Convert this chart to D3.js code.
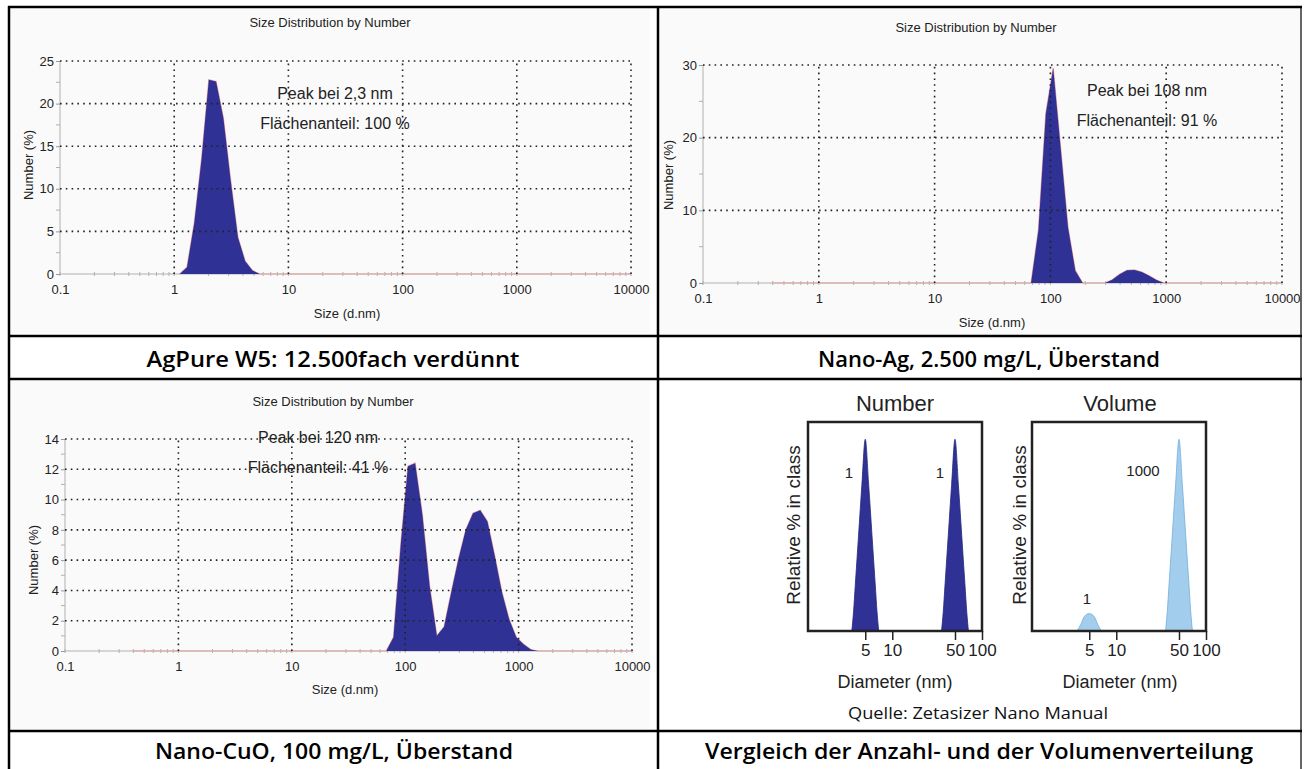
<!DOCTYPE html>
<html>
<head>
<meta charset="utf-8">
<script src="https://cdn.jsdelivr.net/npm/d3@7"></script>
<style>
  body { margin: 0; background: #fff; }
  text { font-family: "Liberation Sans", Arial, sans-serif; }
</style>
</head>
<body>
<script>
// size classes (d.nm) and number %
var agPureSizes  = [1.117, 1.294, 1.499, 1.736, 2.01, 2.328, 2.696, 3.122, 3.615, 4.187, 4.849, 5.615, 10000];
var agPureValues = [0, 0.8, 6, 13.5, 22.8, 22.6, 18.3, 11, 4.3, 1.5, 0.4, 0, 0];

var nanoAgSizes  = [0.4, 68.06, 78.82, 91.28, 105.7, 122.4, 141.8, 164.2, 190.1, 295.3, 342, 396.1, 458.7, 531.2, 615.1, 712.4, 825, 955.4, 10000];
var nanoAgValues = [0, 0, 7.3, 23.3, 29.6, 18.7, 7.7, 1.7, 0, 0, 0.45, 1.2, 1.75, 1.8, 1.5, 1.0, 0.4, 0, 0];

var nanoCuoSizes  = [0.4, 68.06, 78.82, 91.28, 105.7, 122.4, 141.8, 164.2, 190.1, 220.2, 255, 295.3, 342, 396.1, 458.7, 531.2, 615.1, 712.4, 825, 955.4, 1106, 1281, 1484, 10000];
var nanoCuoValues = [0, 0, 0.9, 7.0, 12.2, 12.4, 9.0, 4.3, 1.0, 1.6, 3.9, 6.1, 8.0, 9.1, 9.3, 8.55, 6.3, 3.9, 2.1, 0.9, 0.45, 0.1, 0, 0];

// tick labels
var sizeTicks = [0.1, 1, 10, 100, 1000, 10000];
var agPureYTicks = [0, 5, 10, 15, 20, 25];
var nanoAgYTicks = [0, 10, 20, 30];
var nanoCuoYTicks = [0, 2, 4, 6, 8, 10, 12, 14];

// schematic from the Zetasizer manual (relative % in class)
var peak5Sizes   = [3.54, 3.70, 3.87, 4.21, 4.58, 5, 5.46, 5.94, 6.46, 6.76, 7.06];
var peak5Values  = [0, 10, 24, 50, 76, 100, 76, 50, 24, 10, 0];
var peak50Sizes  = [35.4, 37.0, 38.7, 42.1, 45.8, 50, 54.6, 59.4, 64.6, 67.6, 70.6];
var peak50Values = [0, 10, 24, 50, 76, 100, 76, 50, 24, 10, 0];
var volume5Sizes  = [3.66, 4.03, 4.40, 5, 5.68, 6.21, 6.82];
var volume5Values = [0, 3.5, 7.5, 9.1, 7.5, 3.5, 0];
var diameterTicks = [5, 10, 50, 100];

var navy = "#2f3195";

var svg = d3.select("body").append("svg")
    .attr("width", 1309)
    .attr("height", 769);

function zip(a, b) {
  return a.map(function(d, i) { return [d, b[i]]; });
}

// one "Size Distribution by Number" plot
function drawDls(p) {
  var x = d3.scaleLog().domain([0.1, 10000]).range([p.left, p.right]);
  var y = d3.scaleLinear().domain([0, p.yTicks[p.yTicks.length - 1]]).range([p.bottom, p.top]);
  var g = svg.append("g");
  var data = zip(p.sizes, p.values);

  g.append("rect")
      .attr("x", p.bg[0]).attr("y", p.bg[1])
      .attr("width", p.bg[2]).attr("height", p.bg[3])
      .attr("fill", "#fafafa");

  g.append("text")
      .attr("x", p.titleX).attr("y", p.titleY)
      .attr("text-anchor", "middle")
      .attr("dominant-baseline", "central")
      .style("font-size", "13px")
      .style("fill", "#222")
      .text("Size Distribution by Number");

  // axis lines
  g.append("line")
      .attr("x1", p.left).attr("x2", p.right)
      .attr("y1", y(0)).attr("y2", y(0))
      .attr("stroke", "#c8c8c8").attr("stroke-width", 1.5);
  g.append("line")
      .attr("x1", p.left).attr("x2", p.left)
      .attr("y1", y(0)).attr("y2", p.top)
      .attr("stroke", "#c8c8c8").attr("stroke-width", 1.5);

  // minor ticks
  g.selectAll(".xminor")
      .data(x.ticks())
      .enter().append("line")
      .attr("x1", function(d) { return x(d); }).attr("x2", function(d) { return x(d); })
      .attr("y1", y(0) - 2).attr("y2", y(0) + 2)
      .attr("stroke", "#b0b0b0");
  var half = (p.yTicks[1] - p.yTicks[0]) / 2;
  g.selectAll(".yminor")
      .data(p.yTicks.slice(1).map(function(d) { return d - half; }))
      .enter().append("line")
      .attr("x1", p.left - 4).attr("x2", p.left)
      .attr("y1", function(d) { return y(d); }).attr("y2", function(d) { return y(d); })
      .attr("stroke", "#b0b0b0");

  // data trace (only its baseline part stays visible)
  g.append("path")
      .datum(data)
      .attr("fill", "none")
      .attr("stroke", "#eaa4a4")
      .attr("stroke-width", 1.2)
      .attr("d", d3.line().x(function(d) { return x(d[0]); }).y(function(d) { return y(d[1]); }));

  // filled distribution
  g.append("path")
      .datum(data)
      .attr("fill", navy)
      .attr("d", d3.area().x(function(d) { return x(d[0]); }).y0(y(0)).y1(function(d) { return y(d[1]); }));

  // dotted grid
  g.selectAll(".hgrid")
      .data(p.yTicks.slice(1))
      .enter().append("line")
      .attr("x1", p.left).attr("x2", p.right)
      .attr("y1", function(d) { return y(d); }).attr("y2", function(d) { return y(d); })
      .attr("stroke", "#222").attr("stroke-width", 1.6)
      .attr("stroke-dasharray", "1.6,4.2");
  g.selectAll(".vgrid")
      .data(sizeTicks.slice(1))
      .enter().append("line")
      .attr("x1", function(d) { return x(d); }).attr("x2", function(d) { return x(d); })
      .attr("y1", y(0)).attr("y2", p.top)
      .attr("stroke", "#222").attr("stroke-width", 1.6)
      .attr("stroke-dasharray", "1.6,4.2");

  // tick labels
  var yAxis = g.append("g")
      .attr("transform", "translate(" + p.left + ",0)")
      .call(d3.axisLeft(y).tickValues(p.yTicks).tickSize(4).tickPadding(2));
  yAxis.select(".domain").remove();
  yAxis.selectAll("line").attr("stroke", "#999");
  yAxis.selectAll("text").style("font-size", "13px").style("fill", "#222")
      .style("font-family", "'Liberation Sans', Arial, sans-serif");

  var xAxis = g.append("g")
      .attr("transform", "translate(0," + y(0) + ")")
      .call(d3.axisBottom(x).tickValues(sizeTicks).tickFormat(d3.format("")).tickSize(0).tickPadding(11));
  xAxis.select(".domain").remove();
  xAxis.selectAll("text").style("font-size", "13px").style("fill", "#222")
      .style("font-family", "'Liberation Sans', Arial, sans-serif");

  g.append("text")
      .attr("x", p.xLabel[0]).attr("y", p.xLabel[1])
      .attr("text-anchor", "middle").attr("dominant-baseline", "central")
      .style("font-size", "13px").style("fill", "#222")
      .text("Size (d.nm)");
  g.append("text")
      .attr("transform", "translate(" + p.yLabel[0] + "," + p.yLabel[1] + ") rotate(-90)")
      .attr("text-anchor", "middle").attr("dominant-baseline", "central")
      .style("font-size", "13px").style("fill", "#222")
      .text("Number (%)");

  // peak annotation
  g.selectAll(".note")
      .data(p.notes)
      .enter().append("text")
      .attr("x", p.noteX)
      .attr("y", function(d, i) { return p.noteY[i]; })
      .attr("text-anchor", "middle").attr("dominant-baseline", "central")
      .style("font-size", "16px").style("fill", "#222")
      .text(function(d) { return d; });
}

drawDls({
  left: 60, right: 631, top: 61, bottom: 274,
  bg: [11, 9, 639, 324],
  yTicks: agPureYTicks, sizes: agPureSizes, values: agPureValues,
  titleX: 330, titleY: 22, xLabel: [347, 313], yLabel: [28, 165],
  notes: ["Peak bei 2,3 nm", "Flächenanteil: 100 %"], noteX: 335, noteY: [93, 123]
});

drawDls({
  left: 703, right: 1282, top: 65, bottom: 283,
  bg: [660, 9, 640, 326],
  yTicks: nanoAgYTicks, sizes: nanoAgSizes, values: nanoAgValues,
  titleX: 976, titleY: 27, xLabel: [992, 322], yLabel: [668, 175],
  notes: ["Peak bei 108 nm", "Flächenanteil: 91 %"], noteX: 1147, noteY: [90, 120]
});

drawDls({
  left: 65, right: 632, top: 439, bottom: 651,
  bg: [11, 381, 639, 348],
  yTicks: nanoCuoYTicks, sizes: nanoCuoSizes, values: nanoCuoValues,
  titleX: 333, titleY: 401, xLabel: [345, 689], yLabel: [33, 560],
  notes: ["Peak bei 120 nm", "Flächenanteil: 41 %"], noteX: 318, noteY: [437, 467]
});

// schematic number / volume comparison
function drawSchematic(p) {
  var x = d3.scaleLog().domain([1.15, 100]).range([p.left, p.left + 174]);
  var y = d3.scaleLinear().domain([0, 109]).range([631, 422]);
  var g = svg.append("g");

  g.selectAll(".peak")
      .data(p.peaks)
      .enter().append("path")
      .attr("fill", p.fill)
      .attr("stroke", p.stroke)
      .attr("stroke-width", 0.8)
      .attr("d", function(pk) {
        return d3.area().curve(d3.curveMonotoneX)
            .x(function(d) { return x(d[0]); })
            .y0(y(0))
            .y1(function(d) { return y(d[1]); })(zip(pk[0], pk[1]));
      });

  g.append("rect")
      .attr("x", x.range()[0]).attr("y", y.range()[1])
      .attr("width", x.range()[1] - x.range()[0])
      .attr("height", y.range()[0] - y.range()[1])
      .attr("fill", "none").attr("stroke", "#222").attr("stroke-width", 2.5);

  var xAxis = g.append("g")
      .attr("transform", "translate(0," + y(0) + ")")
      .call(d3.axisBottom(x).tickValues(diameterTicks).tickFormat(d3.format("")).tickSize(9).tickPadding(4));
  xAxis.select(".domain").remove();
  xAxis.selectAll("line").attr("stroke", "#222").attr("stroke-width", 1.5);
  xAxis.selectAll("text").style("font-size", "17px").style("fill", "#222")
      .style("font-family", "'Liberation Sans', Arial, sans-serif");

  g.append("text")
      .attr("x", p.titleX).attr("y", 403)
      .attr("text-anchor", "middle").attr("dominant-baseline", "central")
      .style("font-size", "22px").style("fill", "#222")
      .text(p.title);
  g.append("text")
      .attr("x", p.titleX).attr("y", 682)
      .attr("text-anchor", "middle").attr("dominant-baseline", "central")
      .style("font-size", "18px").style("fill", "#222")
      .text("Diameter (nm)");
  g.append("text")
      .attr("transform", "translate(" + p.yLabelX + ",525) rotate(-90)")
      .attr("text-anchor", "middle").attr("dominant-baseline", "central")
      .style("font-size", "19px").style("fill", "#222")
      .text("Relative % in class");

  g.selectAll(".plabel")
      .data(p.labels)
      .enter().append("text")
      .attr("x", function(d) { return d[0]; })
      .attr("y", function(d) { return d[1]; })
      .attr("text-anchor", "middle").attr("dominant-baseline", "central")
      .style("font-size", "15px").style("fill", "#222")
      .text(function(d) { return d[2]; });
}

drawSchematic({
  left: 808, title: "Number", titleX: 895, yLabelX: 793,
  fill: navy, stroke: "#24287a",
  peaks: [[peak5Sizes, peak5Values], [peak50Sizes, peak50Values]],
  labels: [[849, 472, "1"], [940, 472, "1"]]
});

drawSchematic({
  left: 1032, title: "Volume", titleX: 1120, yLabelX: 1019,
  fill: "#a2cdec", stroke: "#74aedb",
  peaks: [[volume5Sizes, volume5Values], [peak50Sizes, peak50Values]],
  labels: [[1087, 598, "1"], [1143, 470, "1000"]]
});

svg.append("text")
    .attr("x", 978).attr("y", 713)
    .attr("text-anchor", "middle").attr("dominant-baseline", "central")
    .attr("textLength", 260).attr("lengthAdjust", "spacingAndGlyphs")
    .style("font-family", "'Open Sans', sans-serif")
    .style("font-size", "16px").style("fill", "#111")
    .text("Quelle: Zetasizer Nano Manual");

// table frame
var hLines = [7, 336, 379, 731];
var vLines = [9, 658, 1301];
svg.selectAll(".hline")
    .data(hLines)
    .enter().append("line")
    .attr("x1", 8).attr("x2", 1302)
    .attr("y1", function(d) { return d; }).attr("y2", function(d) { return d; })
    .attr("stroke", "#000").attr("stroke-width", 2.5);
svg.selectAll(".vline")
    .data(vLines)
    .enter().append("line")
    .attr("x1", function(d) { return d; }).attr("x2", function(d) { return d; })
    .attr("y1", 6).attr("y2", 769)
    .attr("stroke", "#000").attr("stroke-width", function(d, i) { return i == 2 ? 1.2 : 2.5; });

// captions
var captions = [
  ["AgPure W5: 12.500fach verdünnt", 333, 359, 373],
  ["Nano-Ag, 2.500 mg/L, Überstand", 989, 359, 342],
  ["Nano-CuO, 100 mg/L, Überstand", 334, 751, 358],
  ["Vergleich der Anzahl- und der Volumenverteilung", 979, 751, 548]
];
svg.selectAll(".caption")
    .data(captions)
    .enter().append("text")
    .attr("x", function(d) { return d[1]; })
    .attr("y", function(d) { return d[2]; })
    .attr("text-anchor", "middle").attr("dominant-baseline", "central")
    .attr("textLength", function(d) { return d[3]; })
    .attr("lengthAdjust", "spacingAndGlyphs")
    .style("font-family", "'Open Sans', sans-serif")
    .style("font-weight", 600)
    .style("font-size", "21px")
    .style("fill", "#000")
    .text(function(d) { return d[0]; });
</script>
</body>
</html>
